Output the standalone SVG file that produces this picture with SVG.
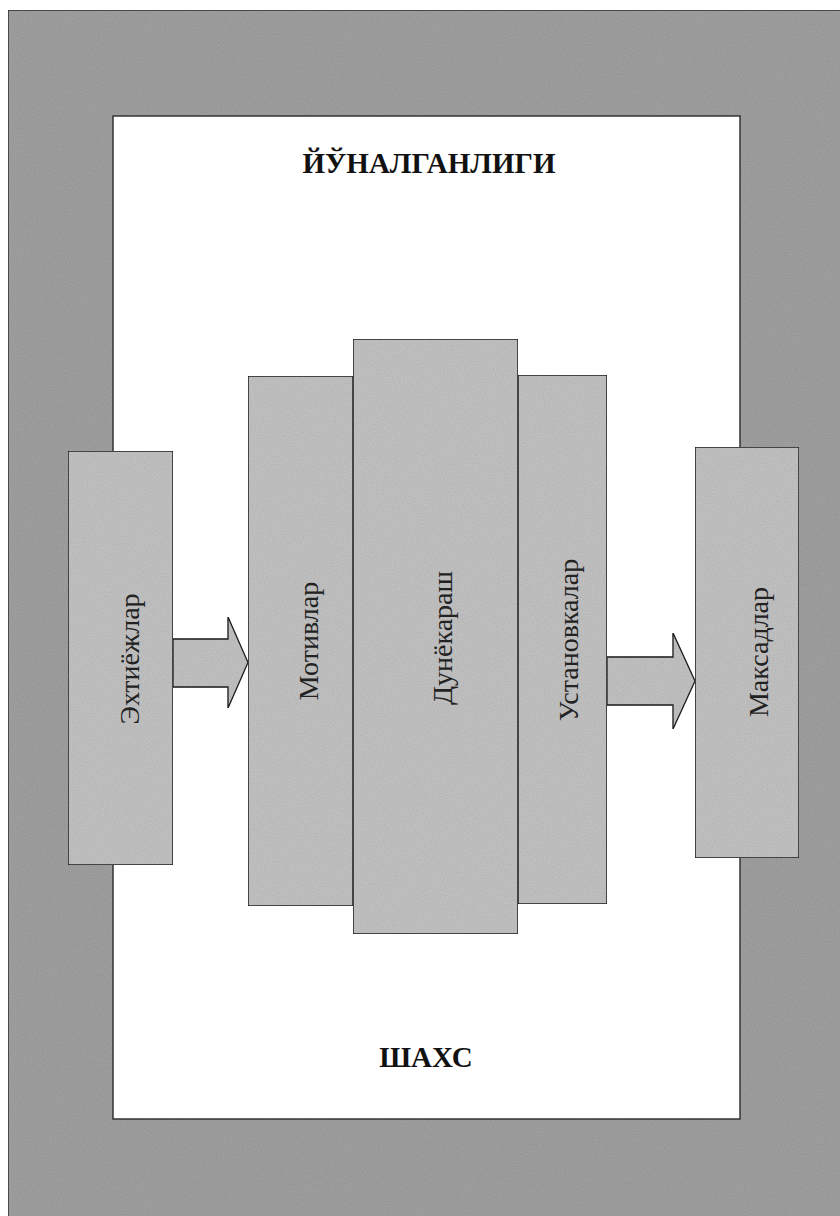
<svg xmlns="http://www.w3.org/2000/svg" width="840" height="1216" viewBox="0 0 840 1216">
  <defs>
    <filter id="grain" x="0" y="0" width="100%" height="100%">
      <feTurbulence type="fractalNoise" baseFrequency="0.9" numOctaves="1" seed="3" result="n"/>
      <feColorMatrix in="n" type="matrix" values="0 0 0 0 0  0 0 0 0 0  0 0 0 0 0  0 0 0 0.28 0" result="dots"/>
      <feComposite in="dots" in2="SourceGraphic" operator="in" result="d2"/>
      <feMerge><feMergeNode in="SourceGraphic"/><feMergeNode in="d2"/></feMerge>
    </filter>
  </defs>
  <style>
    .frame { fill: #a6a6a6; stroke: #333; stroke-width: 1.5; }
    .inner { fill: #ffffff; stroke: #333; stroke-width: 1.5; }
    .box { fill: #c9c9c9; stroke: #222; stroke-width: 1.5; }
    .arrow { fill: #c9c9c9; stroke: #222; stroke-width: 1.3; }
    .title { font-family: "Liberation Serif", "DejaVu Serif", serif; font-weight: bold; font-size: 29px; fill: #111; text-anchor: middle; }
    .lbl { font-family: "Liberation Serif", "DejaVu Serif", serif; font-size: 28px; fill: #222; text-anchor: middle; }
  </style>
  <rect x="0" y="0" width="840" height="1216" fill="#ffffff"/>
  <g id="background">
    <rect class="frame" x="8" y="10" width="840" height="1220" filter="url(#grain)"/>
    <rect class="inner" x="113" y="116" width="627" height="1003"/>
  </g>
  <g id="title">
    <text class="title" x="429" y="173">ЙЎНАЛГАНЛИГИ</text>
  </g>
  <g id="shaxs">
    <text class="title" x="426" y="1067">ШАХС</text>
  </g>
  <g id="connectors">
    <polygon class="arrow" points="173,639 228,639 228,617 248,662.5 228,708 228,687 173,687" filter="url(#grain)"/>
    <polygon class="arrow" points="607,657 673,657 673,633 695,681 673,729 673,705 607,705" filter="url(#grain)"/>
  </g>
  <g id="ehtiyojlar">
    <rect class="box" x="68" y="451" width="105" height="414" filter="url(#grain)"/>
    <text class="lbl" transform="translate(139,659) rotate(-90)">Эхтиёжлар</text>
  </g>
  <g id="motivlar">
    <rect class="box" x="248" y="376" width="105" height="530" filter="url(#grain)"/>
    <text class="lbl" transform="translate(318,641) rotate(-90)">Мотивлар</text>
  </g>
  <g id="ustanovkalar">
    <rect class="box" x="518" y="375" width="89" height="529" filter="url(#grain)"/>
    <text class="lbl" transform="translate(578,640) rotate(-90)">Установкалар</text>
  </g>
  <g id="dunyoqarash">
    <rect class="box" x="353" y="339" width="165" height="595" filter="url(#grain)"/>
    <text class="lbl" transform="translate(452,638) rotate(-90)">Дунёкараш</text>
  </g>
  <g id="maqsadlar">
    <rect class="box" x="695" y="447" width="104" height="411" filter="url(#grain)"/>
    <text class="lbl" transform="translate(768,652) rotate(-90)">Максадлар</text>
  </g>
</svg>
